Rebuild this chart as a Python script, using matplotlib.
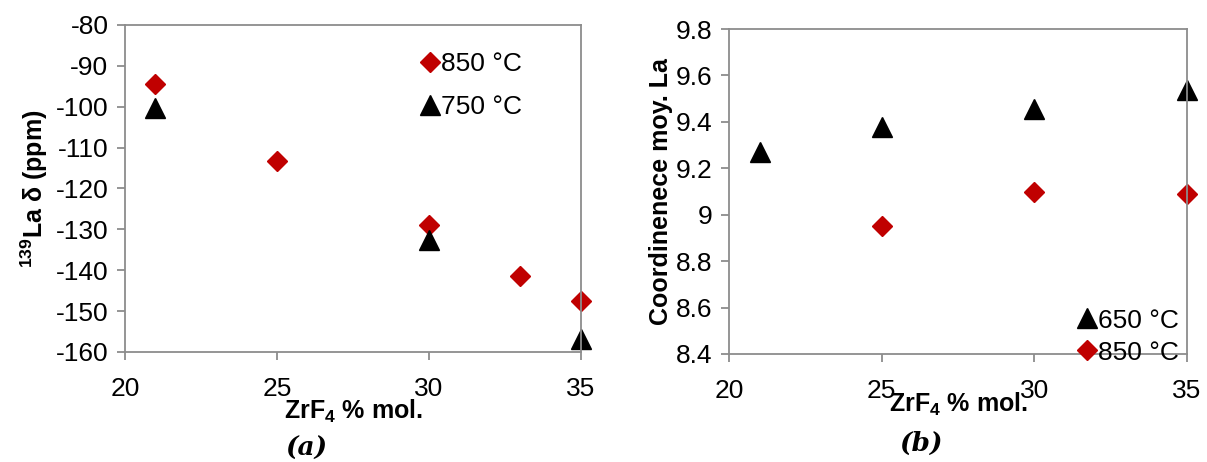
import matplotlib.pyplot as plt

plt.rcParams["font.family"] = ["Liberation Sans", "DejaVu Sans"]
plt.rcParams["axes.unicode_minus"] = False
plt.rcParams["mathtext.default"] = "regular"

# panel (a): 139La chemical shift
x_850a = [21, 25, 30, 33, 35]
y_850a = [-94.5, -113.3, -129.0, -141.5, -147.5]
x_750a = [21, 30, 35]
y_750a = [-100.3, -132.7, -156.8]

# panel (b): mean La coordination
x_650b = [21, 25, 30, 35]
y_650b = [9.27, 9.38, 9.455, 9.537]
x_850b = [25, 30, 35]
y_850b = [8.95, 9.098, 9.09]

xticks = [20, 25, 30, 35]
red = "#C00000"
grey = "#8c8c8c"

fig = plt.figure(figsize=(12.07, 4.62), dpi=100)
ax1 = fig.add_axes([0.1036, 0.2381, 0.3778, 0.7078])
ax2 = fig.add_axes([0.604, 0.2338, 0.3794, 0.7034])


def style(ax):
    for s in ax.spines.values():
        s.set_color(grey)
        s.set_linewidth(1.3)
    ax.tick_params(direction="out", color=grey, length=6, width=1.3,
                   labelsize=19)
    ax.tick_params(axis="x", pad=12)
    ax.tick_params(axis="y", pad=6)
    ax.set_xticks(xticks)
    ax.set_xlim(20, 35)


# (a)
ax1.plot(x_850a, y_850a, "D", color=red, ms=10, ls="none", label="850 °C",
         clip_on=False)
ax1.plot(x_750a, y_750a, "^", color="black", ms=15, ls="none", label="750 °C",
         clip_on=False)
style(ax1)
ax1.set_ylim(-160, -80)
ax1.set_yticks(range(-160, -79, 10))
ax1.set_xlabel("ZrF$_4$ % mol.", fontsize=18, fontweight="bold", labelpad=-2)
ax1.set_ylabel("$^{139}$La δ (ppm)", fontsize=18, fontweight="bold", labelpad=4)
ax1.legend(loc="upper right", bbox_to_anchor=(0.905, 0.965), frameon=False,
           fontsize=19, handletextpad=-0.2, handlelength=1.2, labelspacing=0.7,
           borderaxespad=0.2)
fig.text(0.2535, 0.030, "(a)", fontsize=19, fontweight="bold", style="italic",
         family="DejaVu Serif", ha="center", va="center")

# (b)
ax2.plot(x_650b, y_650b, "^", color="black", ms=15, ls="none", label="650 °C",
         clip_on=False)
ax2.plot(x_850b, y_850b, "D", color=red, ms=10, ls="none", label="850 °C",
         clip_on=False)
style(ax2)
ax2.set_ylim(8.4, 9.8)
ax2.set_yticks([8.4, 8.6, 8.8, 9.0, 9.2, 9.4, 9.6, 9.8])
ax2.set_yticklabels(["8.4", "8.6", "8.8", "9", "9.2", "9.4", "9.6", "9.8"])
ax2.set_xlabel("ZrF$_4$ % mol.", fontsize=18, fontweight="bold", labelpad=-9)
ax2.set_ylabel("Coordinenece moy. La", fontsize=18, fontweight="bold",
               labelpad=2)
ax2.legend(loc="lower right", bbox_to_anchor=(1.005, -0.065), frameon=False,
           fontsize=19, handletextpad=-0.2, handlelength=1.2, labelspacing=0.3,
           borderaxespad=0.0)
fig.text(0.763, 0.041, "(b)", fontsize=19, fontweight="bold", style="italic",
         family="DejaVu Serif", ha="center", va="center")

fig.savefig("out.png", dpi=100)
